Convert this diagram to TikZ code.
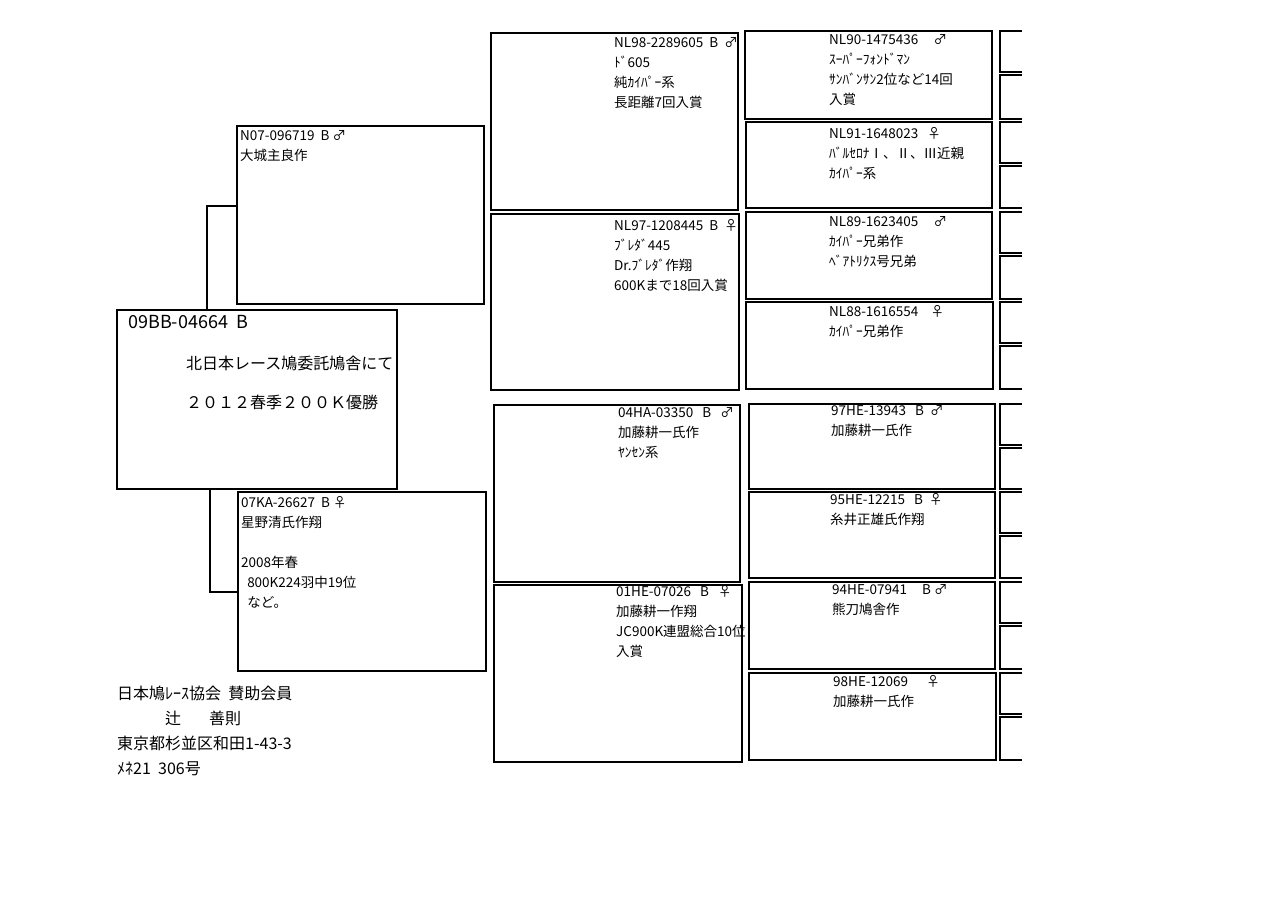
\documentclass[tikz,border=0pt]{standalone}
\usepackage{fontspec}
\setmainfont{Noto Sans CJK JP}
\begin{document}
\begin{tikzpicture}[x=1pt,y=-1pt,
  bx/.style={draw=black,line width=1.6pt},
  tx/.style={anchor=north west,inner sep=0pt,align=left,font=\fontsize{13.5}{20}\selectfont},
  ln/.style={draw=black,line width=1.6pt}]
\useasboundingbox[fill=white] (0,0) rectangle (1280,905);
% main
\draw[bx] (117,310) rectangle (397,489);
\node[tx,font=\fontsize{18}{20}\selectfont] (m1) at (128,315) {09BB-04664\ \ B};
\node[tx,font=\fontsize{16}{20}\selectfont] (m2) at (186,356) {北日本レース鳩委託鳩舎にて};
\node[tx,font=\fontsize{16}{20}\selectfont] (m3) at (186,395) {２０１２春季２００Ｋ優勝};
% parents
\draw[bx] (237,126) rectangle (484,304);
\node[tx] (s) at (240,130) {N07-096719\ \ B ♂\\大城主良作};
\draw[bx] (238,492) rectangle (486,671);
\node[tx] (d) at (241,496) {07KA-26627\ \ B ♀\\星野清氏作翔\\\\2008年春\\\ \ 800K224羽中19位\\\ \ など。};
\draw[ln] (237,206) -- (207,206) -- (207,310);
\draw[ln] (210,489) -- (210,592) -- (238,592);
% grandparents
\draw[bx] (491,33) rectangle (738,210);
\node[tx] (g1) at (614,37) {NL98-2289605\ \ B\ \ ♂\\ﾄﾞ605\\純ｶｲﾊﾟｰ系\\長距離7回入賞};
\draw[bx] (491,214) rectangle (739,390);
\node[tx] (g2) at (614,219) {NL97-1208445\ \ B\ \ ♀\\ﾌﾞﾚﾀﾞ445\\Dr.ﾌﾞﾚﾀﾞ作翔\\600Kまで18回入賞};
\draw[bx] (494,405) rectangle (740,582);
\node[tx] (g3) at (618,407) {04HA-03350\ \ \ B\ \ \ ♂\\加藤耕一氏作\\ﾔﾝｾﾝ系};
\draw[bx] (494,585) rectangle (742,762);
\node[tx] (g4) at (616,585) {01HE-07026\ \ \ B\ \ \ ♀\\加藤耕一作翔\\JC900K連盟総合10位\\入賞};
% great-grandparents
\draw[bx] (745,31) rectangle (992,119);
\node[tx] (h1) at (829,34) {NL90-1475436\ \ \ \ \ ♂\\ｽｰﾊﾟｰﾌｫﾝﾄﾞﾏﾝ\\ｻﾝﾊﾞﾝｻﾝ2位など14回\\入賞};
\draw[bx] (746,122) rectangle (992,208);
\node[tx] (h2) at (829,127) {NL91-1648023\ \ \ ♀\\ﾊﾞﾙｾﾛﾅⅠ、Ⅱ、Ⅲ近親\\ｶｲﾊﾟｰ系};
\draw[bx] (746,212) rectangle (992,299);
\node[tx] (h3) at (829,216) {NL89-1623405\ \ \ \ \ ♂\\ｶｲﾊﾟｰ兄弟作\\ﾍﾞｱﾄﾘｸｽ号兄弟};
\draw[bx] (746,302) rectangle (993,389);
\node[tx] (h4) at (829,305) {NL88-1616554\ \ \ \ ♀\\ｶｲﾊﾟｰ兄弟作};
\draw[bx] (749,404) rectangle (995,489);
\node[tx] (h5) at (831,405) {97HE-13943\ \ \ B\ \ ♂\\加藤耕一氏作};
\draw[bx] (749,492) rectangle (995,578);
\node[tx] (h6) at (830,493) {95HE-12215\ \ \ B\ \ ♀\\糸井正雄氏作翔};
\draw[bx] (749,582) rectangle (995,669);
\node[tx] (h7) at (832,584) {94HE-07941\ \ \ \ \ B ♂\\熊刀鳩舎作};
\draw[bx] (749,673) rectangle (996,760);
\node[tx] (h8) at (833,675) {98HE-12069\ \ \ \ \ \ ♀\\加藤耕一氏作};
% stubs
\foreach \a/\b in {31/72,75/119,122/163,166/208,212/253,256/299,302/343,346/389,404/445,448/489,492/533,536/578,582/623,626/669,673/714,717/760}
  \draw[ln] (1022,\a) -- (1000,\a) -- (1000,\b) -- (1022,\b);
% footer
\node[tx,font=\fontsize{16}{25}\selectfont] (f) at (117,686) {日本鳩ﾚｰｽ協会\ \ 賛助会員\\\hspace{48pt}辻\hspace{28pt}善則\\東京都杉並区和田1-43-3\\ﾒﾈ21\ \ 306号};
\end{tikzpicture}
\end{document}
